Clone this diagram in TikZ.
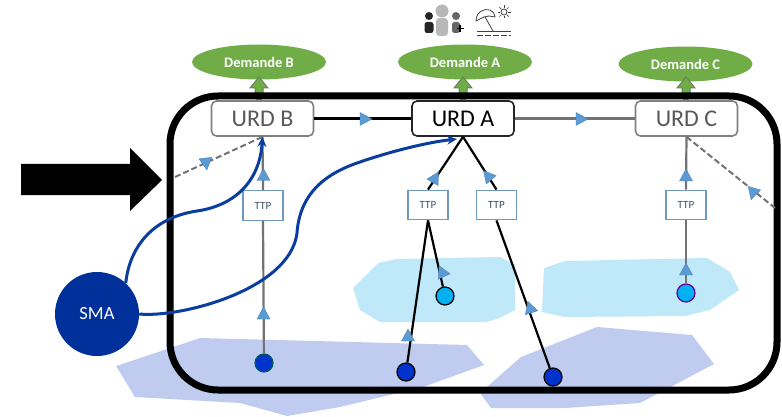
\documentclass[tikz,border=0pt]{standalone}
\usepackage{fontspec}
\setmainfont{Carlito}
\usetikzlibrary{shapes.geometric,arrows.meta}
\definecolor{cgreen}{HTML}{70AD47}
\definecolor{cgreenline}{HTML}{6B7F60}
\definecolor{ctri}{HTML}{5B9BD5}
\definecolor{cblob}{HTML}{BFCCF0}
\definecolor{clight}{HTML}{BFE9F9}
\definecolor{cblue}{HTML}{0B3DA0}
\definecolor{csma}{HTML}{00309A}
\definecolor{cttp}{HTML}{7099C2}
\definecolor{cdot}{HTML}{0033CC}
\definecolor{ccyan}{HTML}{00B0F0}
\tikzset{
  urdbox/.style={draw=#1,line width=1.6pt,rounded corners=5pt,fill=white,minimum width=102pt,minimum height=35pt,inner sep=0pt,font=\fontsize{24}{26}\selectfont},
  demand/.style={ellipse,fill=cgreen,text=white,minimum width=134pt,minimum height=35pt,inner sep=0pt,font=\fontsize{14.5}{16}\selectfont\bfseries},
  ttpbox/.style={draw=cttp,line width=1.4pt,fill=white,minimum width=40pt,minimum height=29.5pt,inner sep=0pt,text=black!25!cttp!70!black,font=\fontsize{11}{13}\selectfont},
  source/.style={circle,fill=#1,minimum size=18pt,inner sep=0pt,line width=1.2pt},
  link/.style={line width=2.2pt,draw=#1},
  duct/.style={line width=2pt,draw=black!55,dash pattern=on 6pt off 3pt},
  bluecurve/.style={line width=3pt,draw=cblue,-{Stealth[length=10pt,width=9pt]}},
  tri/.style={fill=ctri,draw=ctri!80!black,line width=.3pt},
  exch/.style={fill=cgreen,draw=cgreenline,line width=1pt,line join=miter},
}
\newcommand{\tri}[2]{\path[tri,shift={(#1)},rotate=#2] (0,-7) -- (6.5,5) -- (-6.5,5) -- cycle;}
\newcommand{\exch}[1]{\path[exch,shift={(#1,0)}] (0,77) -- (9,88) -- (4,88) -- (4,97) -- (0,102) -- (-4,97) -- (-4,88) -- (-9,88) -- cycle;}
\begin{document}
\begin{tikzpicture}[x=1pt,y=-1pt]
\useasboundingbox (0,0) rectangle (782,417);
% zones
\fill[cblob] (116,366) -- (200,338) -- (467,345) -- (484,365) -- (423,387) -- (340,407) -- (287,416) -- (240,403) -- (135,397) -- cycle;
\fill[cblob] (480,393) -- (521,357) -- (597,327) -- (692,335) -- (714,364) -- (640,403) -- (565,408) -- (491,408) -- cycle;
\fill[clight] (353,288) -- (378,263) -- (397,259) -- (500,257) -- (515,265) -- (515,310) -- (497,319) -- (485,322) -- (380,322) -- (360,310) -- cycle;
\fill[clight] (542,312) -- (544,268) -- (565,261) -- (707,258) -- (730,272) -- (739,290) -- (710,310) -- (685,316) -- (565,317) -- cycle;
% icons
\fill[black!85] (429,16) circle (4);
\fill[black!85,rounded corners=2.5pt] (424.5,22) rectangle (433.5,33);
\fill[black!28] (442,11) circle (6.5);
\fill[black!28,rounded corners=3.5pt] (436,18) rectangle (448,36);
\fill[black!60] (456,16) circle (4);
\fill[black!60,rounded corners=2.5pt] (452,22) rectangle (460,33);
\draw[black,line width=1.2pt] (456.5,28.5) -- (463.5,28.5) (460,25) -- (460,32);
\draw[black!75,line width=.8pt,line join=round] (476,21) .. controls (476,12) and (484,8) .. (490,10) .. controls (493,11) and (495,14) .. (495,17) -- (489,16) -- (484,17) -- (480,19) -- cycle;
\draw[black!75,line width=.8pt] (485,17) -- (493,31);
\draw[black!75,line width=.9pt] (477,31) -- (511,31);
\draw[black!75,line width=.9pt,dash pattern=on 6pt off 2pt] (477,35) -- (511,35);
\draw[black!75,line width=.8pt] (504,12) circle (3);
\foreach \a in {0,45,...,315}{\draw[black!75,line width=.7pt] ([shift={(\a:4)}]504,12) -- ([shift={(\a:6.5)}]504,12);}
% demand
\node[demand] (demB) at (259,62) {Demande B};
\node[demand] (demA) at (465,62) {Demande A};
\node[demand] (demC) at (685.5,64) {Demande C};
\exch{259}\exch{463}\exch{686}
% frame
\draw[black,line width=7pt,rounded corners=48pt] (170,96) rectangle (777,390);
% big arrow
\fill[black] (21,164) -- (130,164) -- (130,148) -- (162,180) -- (130,211) -- (130,195) -- (21,195) -- cycle;
% URD
\node[urdbox=black!50,text=black!65] (urdB) at (262.5,118.5) {URD B};
\node[urdbox=black!85,text=black] (urdA) at (463,118.5) {URD A};
\node[urdbox=black!50,text=black!65] (urdC) at (686.5,118.5) {URD C};
% TTP
\node[ttpbox] (ttpB) at (263,205.5) {TTP};
\node[ttpbox] (ttpAa) at (428,205) {TTP};
\node[ttpbox] (ttpAb) at (496.5,205) {TTP};
\node[ttpbox] (ttpC) at (686,205) {TTP};
% sources
\node[source=cdot,draw=teal!70!black] (srcB) at (264,363) {};
\node[source=cdot,draw=black] (srcAa) at (406,372) {};
\node[source=ccyan,draw=black] (srcAc) at (445,296) {};
\node[source=cdot,draw=black] (srcAb) at (553,377) {};
\node[source=ccyan,draw=violet!80!blue] (srcC) at (686,293) {};
\node[circle,fill=csma,minimum size=84pt,inner sep=0pt,text=white,font=\fontsize{18.5}{20}\selectfont] (sma) at (97,314) {SMA};
\coordinate (ductBend) at (175,177);
\coordinate (ductEnd) at (775,208);
\coordinate (smaA) at (457,139);
% connectors
\draw[link=black] (urdB.east) -- (urdA.west);
\draw[link=black!55] (urdA.east) -- (urdC.west);
\draw[link=black!55] (srcB) -- (ttpB.south);
\draw[link=black!55] (ttpB.north) -- (urdB.south);
\draw[link=black] (srcAa) -- (ttpAa.south);
\draw[link=black] (srcAc) -- (ttpAa.south);
\draw[link=black] (srcAb) -- (ttpAb.south);
\draw[link=black] (ttpAa.north) -- (urdA.south);
\draw[link=black] (ttpAb.north) -- (urdA.south);
\draw[link=black!55] (srcC) -- (ttpC.south);
\draw[link=black!55] (ttpC.north) -- (urdC.south);
\draw[duct] (ductBend) -- (urdB.south);
\draw[duct] (urdC.south) -- (ductEnd);
\draw[bluecurve] (sma.47) .. controls (129,250) and (150,218) .. (197,211) .. controls (238,205) and (260,178) .. (urdB.south);
\draw[bluecurve] (sma.east) .. controls (180,318) and (290,290) .. (297,233) .. controls (300,190) and (330,172) .. (360,162) .. controls (395,150) and (430,142) .. (smaA);
% markers
\tri{365,119}{-90}
\tri{581,119}{-90}
\tri{263.5,175.5}{0}
\tri{263.5,314}{0}
\tri{435,178}{-30}
\tri{488,176}{40}
\tri{408,336}{0}
\tri{442,272}{25}
\tri{530,308}{18}
\tri{686,176}{0}
\tri{686,270}{0}
\tri{206,163}{187}
\tri{753,193}{164}
\end{tikzpicture}
\end{document}
